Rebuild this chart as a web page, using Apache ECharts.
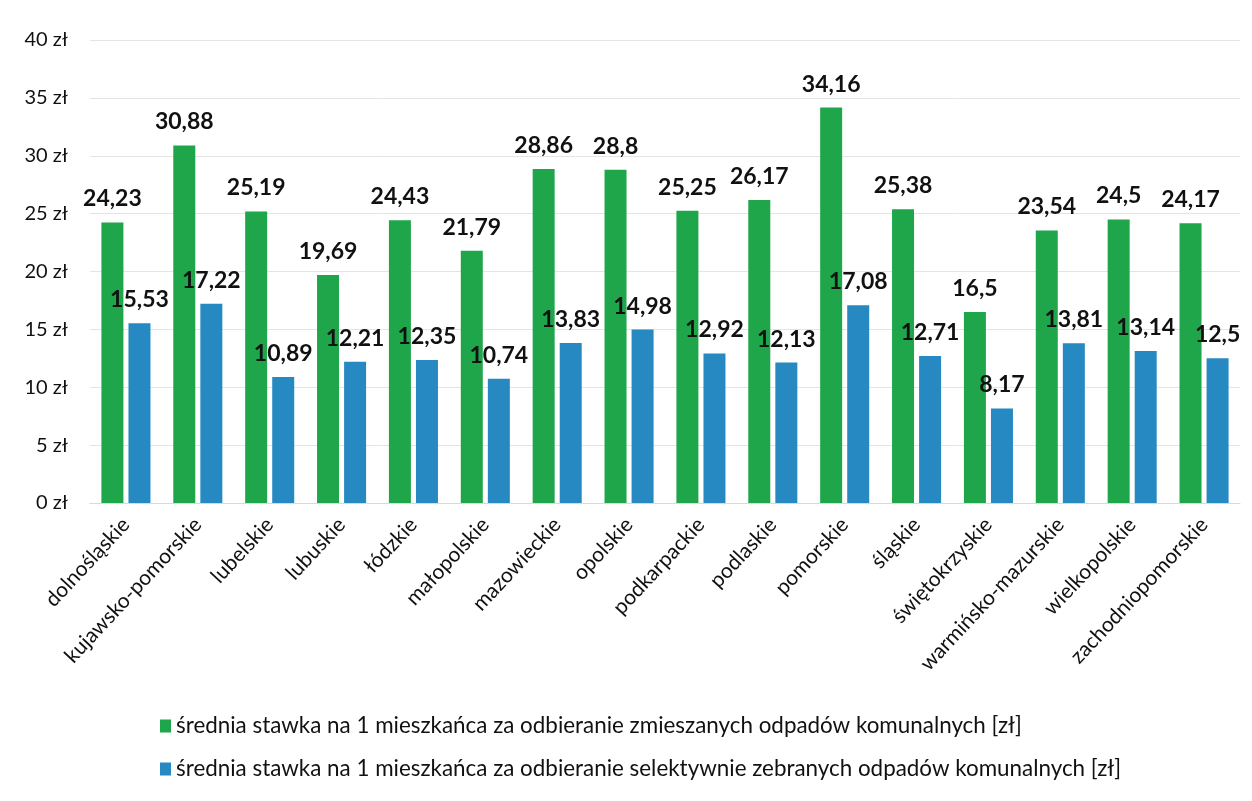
<!DOCTYPE html>
<html><head><meta charset="utf-8">
<script src="https://cdn.jsdelivr.net/npm/echarts@6/dist/echarts.min.js"></script>
<style>html,body{margin:0;padding:0;background:#fff}#c{width:1252px;height:801px}</style>
</head><body><div id="c"></div>
<script>
const categories = ["dolnośląskie","kujawsko-pomorskie","lubelskie","lubuskie","łódzkie","małopolskie","mazowieckie","opolskie","podkarpackie","podlaskie","pomorskie","śląskie","świętokrzyskie","warmińsko-mazurskie","wielkopolskie","zachodniopomorskie"];
const mixedValues = [24.23,30.88,25.19,19.69,24.43,21.79,28.86,28.8,25.25,26.17,34.16,25.38,16.5,23.54,24.5,24.17];
const selectiveValues = [15.53,17.22,10.89,12.21,12.35,10.74,13.83,14.98,12.92,12.13,17.08,12.71,8.17,13.81,13.14,12.5];
const seriesNames = ["średnia stawka na 1 mieszkańca za odbieranie zmieszanych odpadów komunalnych [zł]","średnia stawka na 1 mieszkańca za odbieranie selektywnie zebranych odpadów komunalnych [zł]"];
const FONT = "Lato";
const chart = echarts.init(document.getElementById('c'), null, {renderer:'canvas'});
const lbl = {show:true, position:'top', distance:12, color:'#111', fontWeight:'bold', fontSize:23, fontFamily:FONT,
  formatter: p => String(p.value).replace('.', ',')};
chart.setOption({
  animation:false,
  textStyle:{fontFamily:FONT},
  grid:{left:90, right:12, top:40, bottom:298, containLabel:false},
  legend:{orient:'vertical', left:155, top:710, itemWidth:11, itemHeight:13, itemGap:21,
    icon:'rect', textStyle:{fontSize:22.4, color:'#111', fontFamily:FONT}, data:seriesNames},
  xAxis:{type:'category', data:categories,
    axisLine:{lineStyle:{color:'#d9d9d9'}}, axisTick:{show:false},
    axisLabel:{rotate:47, fontSize:21, color:'#111', margin:18, interval:0, fontFamily:FONT}},
  yAxis:{type:'value', min:0, max:40, interval:5,
    axisLine:{show:false}, axisTick:{show:false},
    splitLine:{lineStyle:{color:'#e4e4e4'}},
    axisLabel:{formatter: v => v + ' zł', fontSize:20, color:'#111', margin:22, fontFamily:FONT}},
  series:[
    {name:seriesNames[0], type:'bar', data:mixedValues, barWidth:22, barGap:'23%', itemStyle:{color:'#1fa64b'}, label:lbl},
    {name:seriesNames[1], type:'bar', data:selectiveValues, barWidth:22, itemStyle:{color:'#2689c2'}, label:lbl}
  ]
});
</script></body></html>
